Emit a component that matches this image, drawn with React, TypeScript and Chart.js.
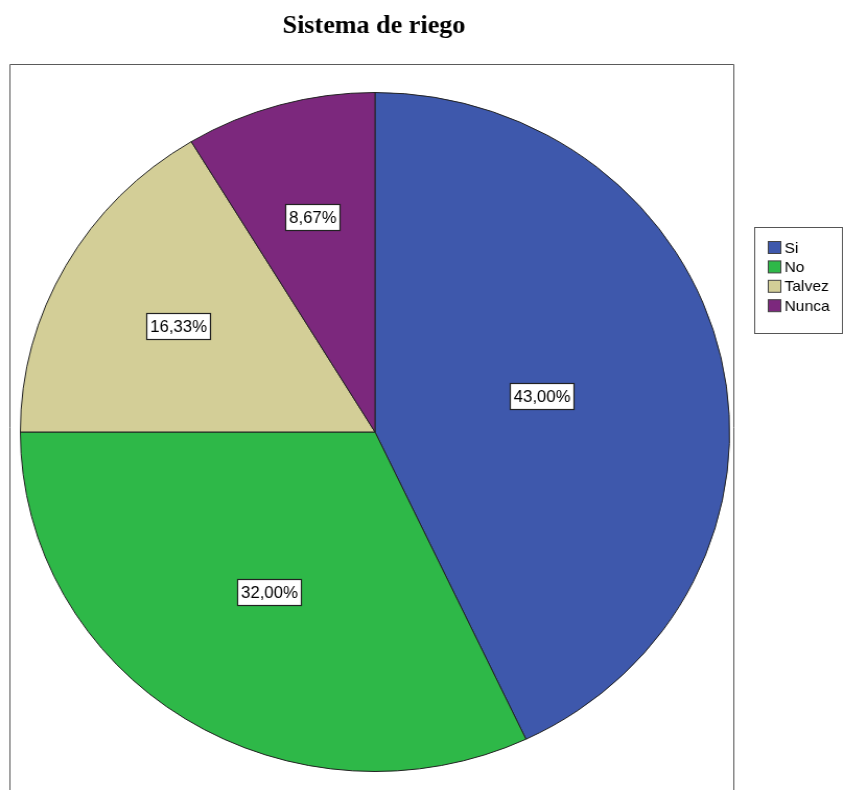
import React, { useEffect, useRef } from "react";
import { Chart, registerables } from "chart.js";

Chart.register(...registerables);

const titleText = "Sistema de riego";
const categories = ["Si", "No", "Talvez", "Nunca"];
const percentages = [43.0, 32.0, 16.33, 8.67];
const sliceColors = ["#3E58AC", "#2EB848", "#D3CE97", "#7C287D"];

const CANVAS_W = 808;
const CANVAS_H = 790;
const STRETCH = 844 / CANVAS_W;

const fmt = (v: number) => v.toFixed(2).replace(".", ",") + "%";

const decorPlugin = {
  id: "decor",
  beforeDraw(chart: any) {
    const ctx = chart.ctx;
    ctx.save();
    // frame
    ctx.strokeStyle = "#5a5a5a";
    ctx.lineWidth = 1;
    ctx.beginPath();
    ctx.moveTo(9.5, CANVAS_H);
    ctx.lineTo(9.5, 64.5);
    ctx.lineTo(702.5, 64.5);
    ctx.lineTo(702.5, CANVAS_H);
    ctx.stroke();
    // title
    ctx.fillStyle = "#000";
    ctx.font = 'bold 25px "Liberation Serif", "Times New Roman", serif';
    ctx.textAlign = "center";
    ctx.textBaseline = "alphabetic";
    ctx.fillText(titleText, 358, 33);
    ctx.restore();
  },
  afterDatasetsDraw(chart: any) {
    const ctx = chart.ctx;
    const meta = chart.getDatasetMeta(0);
    ctx.save();
    ctx.font = '16px "Liberation Sans", Arial, sans-serif';
    ctx.textAlign = "center";
    ctx.textBaseline = "middle";
    meta.data.forEach((arc: any, i: number) => {
      const p = arc.getProps(["x", "y", "startAngle", "endAngle", "outerRadius"], true);
      const theta = p.endAngle - p.startAngle;
      const mid = (p.startAngle + p.endAngle) / 2;
      const d = (4 * p.outerRadius * Math.sin(theta / 2)) / (3 * theta);
      const cx = p.x + Math.cos(mid) * d;
      const cy = p.y + Math.sin(mid) * d;
      const txt = fmt(percentages[i]);
      const w = Math.round(ctx.measureText(txt).width) + 7;
      const h = 26;
      const bx = Math.round(cx - w / 2) + 0.5;
      const by = Math.round(cy - h / 2) + 0.5;
      ctx.fillStyle = "#ffffff";
      ctx.fillRect(bx, by, w, h);
      ctx.strokeStyle = "#222";
      ctx.lineWidth = 1.2;
      ctx.strokeRect(bx, by, w, h);
      ctx.fillStyle = "#000";
      ctx.fillText(txt, bx + w / 2, by + h / 2 + 1);
    });
    ctx.restore();
  },
  afterDraw(chart: any) {
    const ctx = chart.ctx;
    ctx.save();
    // legend box
    ctx.strokeStyle = "#555";
    ctx.lineWidth = 1;
    ctx.strokeRect(722.5, 227.5, 84, 106);
    ctx.font = '15px "Liberation Sans", Arial, sans-serif';
    ctx.textAlign = "left";
    ctx.textBaseline = "middle";
    categories.forEach((c, i) => {
      const y = 241.5 + i * 19.4;
      ctx.fillStyle = sliceColors[i];
      ctx.fillRect(735.5, y, 12, 12);
      ctx.strokeStyle = "#444";
      ctx.strokeRect(735.5, y, 12, 12);
      ctx.fillStyle = "#000";
      ctx.fillText(c, 751, y + 7);
    });
    ctx.restore();
  },
};

export default function App() {
  const ref = useRef<HTMLCanvasElement | null>(null);
  useEffect(() => {
    if (!ref.current) return;
    const chart = new Chart(ref.current, {
      type: "pie",
      data: {
        labels: categories,
        datasets: [
          {
            data: percentages,
            backgroundColor: sliceColors,
            borderColor: "#222",
            borderWidth: 1,
            hoverOffset: 0,
            offset: 0,
          },
        ],
      },
      options: {
        responsive: false,
        animation: false,
        events: [],
        rotation: 0,
        layout: { padding: { left: 19, right: 109, top: 92, bottom: 18 } },
        plugins: {
          legend: { display: false },
          tooltip: { enabled: false },
          title: { display: false },
        },
      },
      plugins: [decorPlugin],
    });
    return () => chart.destroy();
  }, []);
  return (
    <div
      style={{
        position: "absolute",
        left: 0,
        top: 0,
        width: 844,
        height: 790,
        overflow: "hidden",
        background: "#fff",
      }}
    >
      <canvas
        ref={ref}
        width={CANVAS_W}
        height={CANVAS_H}
        style={{ display: "block", transform: `scaleX(${STRETCH})`, transformOrigin: "0 0" }}
      />
    </div>
  );
}
